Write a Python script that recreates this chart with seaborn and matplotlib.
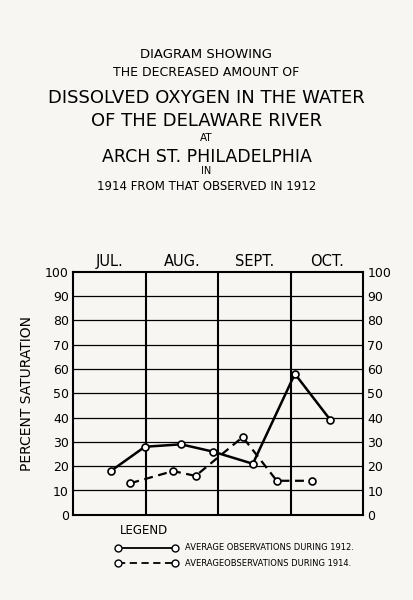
import matplotlib
matplotlib.use("Agg")
import matplotlib.pyplot as plt
import seaborn as sns
import pandas as pd

months = ["JUL.", "AUG.", "SEPT.", "OCT."]
x1912 = [0.52, 0.99, 1.49, 1.93, 2.48, 3.06, 3.55]
y1912 = [18, 28, 29, 26, 21, 58, 39]
x1914 = [0.79, 1.38, 1.69, 2.34, 2.81, 3.30]
y1914 = [13, 18, 16, 32, 14, 14]
yticks = list(range(0, 101, 10))

sns.set_style("white")
plt.rcParams['font.family'] = ['DejaVu Sans']
plt.rcParams['text.color'] = 'black'
plt.rcParams['xtick.color'] = 'black'
plt.rcParams['ytick.color'] = 'black'
plt.rcParams['axes.labelcolor'] = 'black'
bg = "#f7f6f2"
fig = plt.figure(figsize=(4.13, 6.0), dpi=100, facecolor=bg)
ax = fig.add_axes([0.177, 0.142, 0.702, 0.405], facecolor=bg)

d1 = pd.DataFrame({"x": x1912, "y": y1912})
d2 = pd.DataFrame({"x": x1914, "y": y1914})
sns.lineplot(data=d1, x="x", y="y", ax=ax, color="black", lw=1.8, marker="o",
             markersize=5, markerfacecolor="white", markeredgecolor="black", markeredgewidth=1.2)
sns.lineplot(data=d2, x="x", y="y", ax=ax, color="black", lw=1.6, ls=(0, (4, 2.5)), marker="o",
             markersize=5, markerfacecolor="white", markeredgecolor="black", markeredgewidth=1.2)
ax.set_xlim(0, 4)
ax.set_ylim(0, 100)
for v in yticks[1:-1]:
    ax.axhline(v, color="black", lw=0.9, zorder=0)
for v in [1, 2, 3]:
    ax.axvline(v, color="black", lw=1.5, zorder=0)
for s in ax.spines.values():
    s.set_linewidth(1.5); s.set_color("black")
ax.set_yticks(yticks)
ax.set_yticklabels([str(t) for t in yticks], fontsize=9)
ax.tick_params(axis="y", length=0, pad=3, labelright=True)
ax.set_xticks([0.5, 1.5, 2.5, 3.5])
ax.set_xticklabels(months, fontsize=10.5)
ax.tick_params(axis="x", length=0, top=True, labeltop=True, labelbottom=False, pad=2)
ax.set_xlabel("")
ax.set_ylabel("PERCENT SATURATION", fontsize=10, labelpad=8)

lines = [(55, "DIAGRAM SHOWING", 9.5), (72, "THE DECREASED AMOUNT OF", 9),
         (98, "DISSOLVED OXYGEN IN THE WATER", 13), (121, "OF THE DELAWARE RIVER", 13),
         (138, "AT", 7.5), (157, "ARCH ST. PHILADELPHIA", 12.5), (171, "IN", 7),
         (187, "1914 FROM THAT OBSERVED IN 1912", 8.5)]
for y, t, fs in lines:
    fig.text(0.5, 1 - y / 600, t, ha="center", va="center", fontsize=fs)

fig.text(120 / 413, 1 - 530 / 600, "LEGEND", fontsize=8.5, va="center")
for yy, ls, lab in [(548, "-", "AVERAGE OBSERVATIONS DURING 1912."),
                    (563, (0, (4, 2.5)), "AVERAGEOBSERVATIONS DURING 1914.")]:
    fy = 1 - yy / 600
    fig.add_artist(plt.Line2D([118 / 413, 175 / 413], [fy, fy], color="black", lw=1.3, ls=ls,
                              marker="o", markevery=[0, 1], markersize=5, markerfacecolor="white"))
    fig.text(185 / 413, fy, lab, fontsize=6, va="center")

fig.savefig("out.png", dpi=100, facecolor=bg)
